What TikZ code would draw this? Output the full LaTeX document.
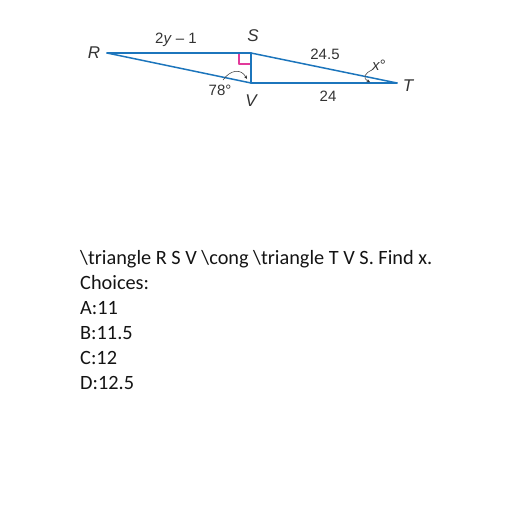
\documentclass[tikz,border=0pt]{standalone}
\usepackage{fontspec}
\usepackage{tkz-euclide}
\setmainfont{Liberation Sans}
\newfontfamily\questionfont{Carlito}
\definecolor{edgeblue}{HTML}{1C75BC}
\definecolor{markpink}{HTML}{E23A9B}
\definecolor{labelgray}{HTML}{333333}
\tikzset{
  edge/.style={edgeblue,line width=1.5pt},
  anglemark/.style={labelgray,line width=.5pt},
  vertexlabel/.style={labelgray,font=\fontsize{17}{17}\selectfont\itshape,inner sep=0pt},
  lengthlabel/.style={labelgray,font=\fontsize{15}{15}\selectfont,inner sep=0pt},
  questionline/.style={anchor=base west,inner sep=0pt,text=black!92,font=\fontsize{20.3}{25}\questionfont}
}
\begin{document}
\begin{tikzpicture}[x=1pt,y=-1pt]
  \useasboundingbox (0,0) rectangle (512,512);
  \tkzDefPoint(107,53){R}
  \tkzDefPoint(251,53){S}
  \tkzDefPoint(251,83){V}
  \tkzDefPoint(397,83){T}
  \tkzDefPoint(239,53){a}
  \tkzDefPoint(239,64){b}
  \tkzDefPoint(251,64){c}
  \tkzDrawSegments[markpink,line width=1.2pt](a,b b,c)
  \tkzDrawSegments[edge](R,S S,T T,V S,V V,R)
  % angle marks
  \tkzDefPoint(223,80){p}
  \tkzDefPoint(247,79){q}
  \tkzDefPoint(372,70){u}
  \tkzDefPoint(370,82){w}
  \draw[anglemark,-stealth] (p) .. controls (230,70) and (241,68) .. (q);
  \draw[anglemark,-stealth] (u) .. controls (365,73) and (362,78) .. (w);
  \node[vertexlabel] (lblR) at (94,53) {R};
  \node[vertexlabel] (lblS) at (253,36) {S};
  \node[vertexlabel] (lblV) at (251,101) {V};
  \node[vertexlabel] (lblT) at (408,86) {T};
  \node[lengthlabel] (lblRS) at (176,40) {2\textit{y} -- 1};
  \node[lengthlabel] (lblST) at (325,54) {24.5};
  \node[lengthlabel] (lblVT) at (328,96) {24};
  \node[lengthlabel] (lblang) at (220,90) {78°};
  \node[lengthlabel] (lblx) at (379,65) {\textit{x}°};
  \node[questionline] (qa) at (80,264) {\textbackslash triangle R S V \textbackslash cong \textbackslash triangle T V S. Find x.};
  \node[questionline] (qb) at (80,289) {Choices:};
  \node[questionline] (qc) at (80,314) {A:11};
  \node[questionline] (qd) at (80,339) {B:11.5};
  \node[questionline] (qe) at (80,364) {C:12};
  \node[questionline] (qf) at (80,389) {D:12.5};
\end{tikzpicture}
\end{document}
